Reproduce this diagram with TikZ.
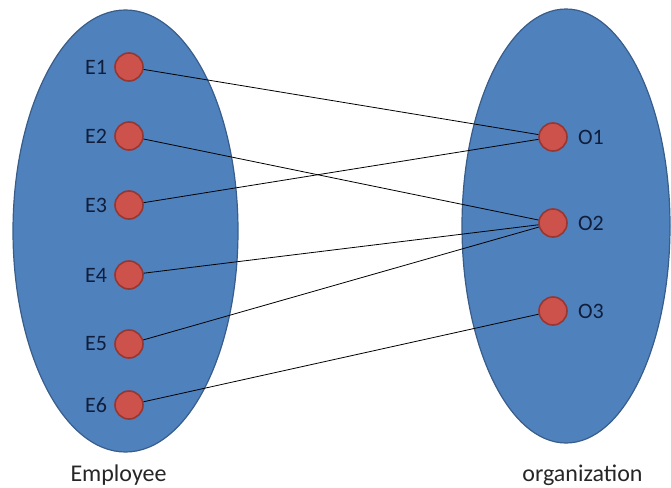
\documentclass[tikz,border=0pt]{standalone}
\usepackage{fontspec}
\setmainfont{Carlito}
\usetikzlibrary{positioning}
\definecolor{setblue}{RGB}{79,129,189}
\definecolor{setedge}{RGB}{56,93,138}
\definecolor{dotred}{RGB}{205,82,75}
\definecolor{dotedge}{RGB}{150,55,50}
\definecolor{labnavy}{RGB}{16,30,60}
\begin{document}
\begin{tikzpicture}[x=1pt,y=-1pt,
  dot/.style={circle,minimum size=28pt,inner sep=0pt,fill=dotred,draw=dotedge,line width=1.6pt},
  lab/.style={inner sep=0pt,text=labnavy,font=\fontsize{22}{24}\selectfont},
  setcaption/.style={inner sep=0pt,text=black!85,font=\fontsize{24}{26}\selectfont},
  link/.style={line width=0.8pt,black}]
\useasboundingbox (0,0) rectangle (671,487);

\draw[fill=setblue,draw=setedge,line width=1.2pt] (125.5,231) ellipse [x radius=112.5,y radius=221];
\draw[fill=setblue,draw=setedge,line width=1.2pt] (566,226) ellipse [x radius=104,y radius=217];

\node[dot] (e1) at (129,67) {};
\node[dot] (e2) at (129,136) {};
\node[dot] (e3) at (129,205) {};
\node[dot] (e4) at (129,275) {};
\node[dot] (e5) at (129,344) {};
\node[dot] (e6) at (129,405) {};
\node[lab,left=7pt of e1] {E1};
\node[lab,left=7pt of e2] {E2};
\node[lab,left=7pt of e3] {E3};
\node[lab,left=7pt of e4] {E4};
\node[lab,left=7pt of e5] {E5};
\node[lab,left=7pt of e6] {E6};

\node[dot] (o1) at (553,137) {};
\node[dot] (o2) at (553,223) {};
\node[dot] (o3) at (553,311) {};
\node[lab,right=10pt of o1] {O1};
\node[lab,right=10pt of o2] {O2};
\node[lab,right=10pt of o3] {O3};

\draw[link] (e1) -- (o1);
\draw[link] (e2) -- (o2);
\draw[link] (e3) -- (o1);
\draw[link] (e4) -- (o2);
\draw[link] (e5) -- (o2);
\draw[link] (e6) -- (o3);

\node[setcaption] (emp) at (118.5,475) {Employee};
\node[setcaption] (org) at (582.5,475) {organization};
\end{tikzpicture}
\end{document}
